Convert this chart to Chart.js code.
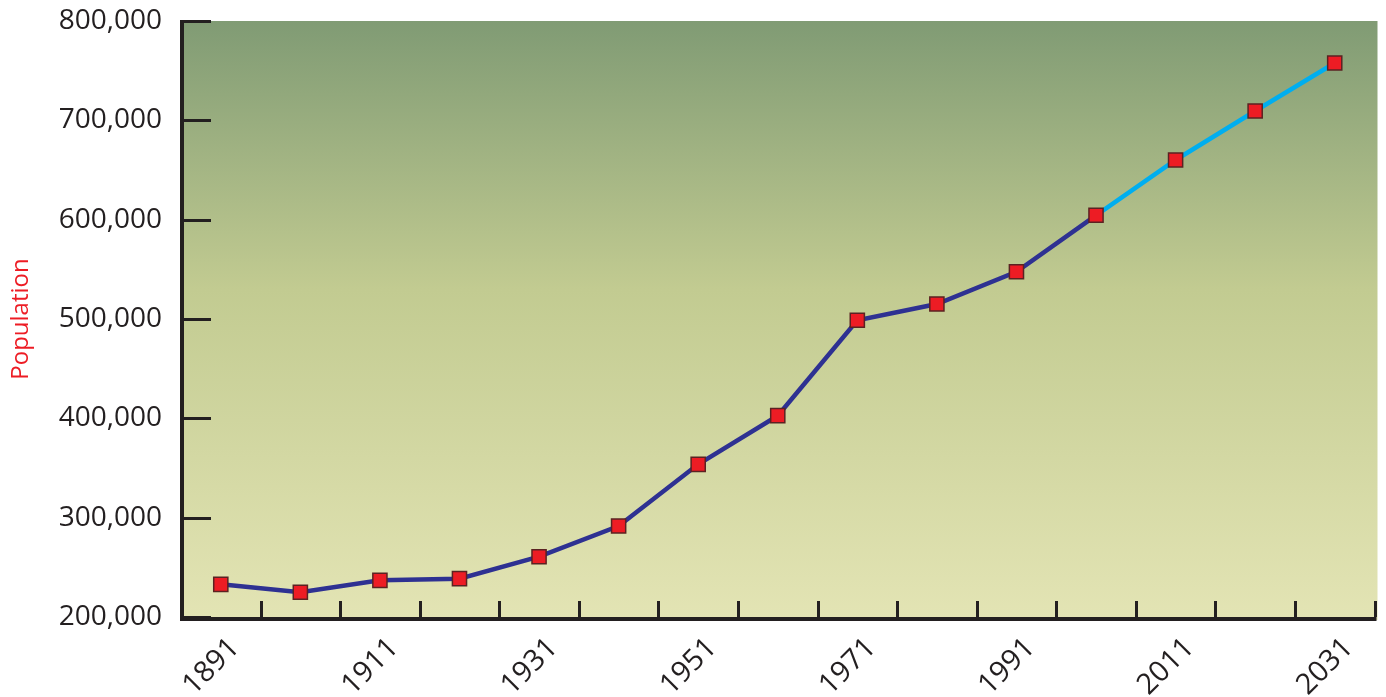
<!DOCTYPE html>
<html>
<head>
<meta charset="utf-8">
<title>Population</title>
<script src="https://cdn.jsdelivr.net/npm/chart.js@4/dist/chart.umd.min.js"></script>
<style>
  html, body { margin: 0; padding: 0; background: #ffffff; }
  #wrap { width: 1386px; height: 697px; position: relative; }
</style>
</head>
<body>
<div id="wrap"><canvas id="popChart"></canvas></div>
<script>
/* ================= Dados ================= */
const years = ['1891', '1901', '1911', '1921', '1931', '1941', '1951', '1961',
               '1971', '1981', '1991', '2001', '2011', '2021', '2031'];
const population = [232900, 224900, 236900, 238600, 260700, 291600, 353700, 402700,
                    498700, 515100, 547600, 604400, 660100, 709400, 757700];
const yTicks = [200000, 300000, 400000, 500000, 600000, 700000, 800000];
const projectionStart = 11; // a partir de 2001 a linha fica azul claro

const INK = '#231f20';
const FONT = '"Open Sans", "DejaVu Sans", sans-serif';

/* ================= Plugins ================= */
// fundo em degradê verde
const bgGradient = {
  id: 'bgGradient',
  beforeDatasetsDraw(chart) {
    const { ctx, chartArea: a } = chart;
    const g = ctx.createLinearGradient(0, a.top, 0, a.bottom);
    g.addColorStop(0, '#809b74');
    g.addColorStop(0.45, '#c2cb91');
    g.addColorStop(1, '#e3e4b4');
    ctx.save();
    ctx.fillStyle = g;
    ctx.fillRect(a.left, a.top, a.right - a.left + 3, a.bottom - a.top + 3);
    ctx.restore();
  }
};

// eixos com marcas para dentro da área do gráfico
const innerAxes = {
  id: 'innerAxes',
  afterDatasetsDraw(chart) {
    const { ctx, chartArea: a, scales } = chart;
    const x = scales.x, y = scales.y;
    ctx.save();
    ctx.strokeStyle = INK;
    ctx.lineCap = 'butt';

    ctx.lineWidth = 3;
    yTicks.forEach(v => {
      const py = Math.round(y.getPixelForValue(v)) + 0.5;
      ctx.beginPath();
      ctx.moveTo(a.left, py);
      ctx.lineTo(a.left + 30, py);
      ctx.stroke();
    });
    for (let i = 1; i <= years.length; i++) {
      const px = Math.round(x.getPixelForValue(i - 0.5)) + 0.5;
      ctx.beginPath();
      ctx.moveTo(px, a.bottom);
      ctx.lineTo(px, a.bottom - 16);
      ctx.stroke();
    }

    ctx.lineWidth = 4;
    ctx.beginPath();
    ctx.moveTo(a.left + 1, a.top - 1);
    ctx.lineTo(a.left + 1, a.bottom + 2);
    ctx.lineTo(a.right + 2, a.bottom + 2);
    ctx.stroke();
    ctx.restore();
  }
};

// tamanhos fixos das escalas, sem folgas extras
function fixBox(s, w, h) {
  if (w) s.width = w;
  if (h) s.height = h;
  s.paddingTop = 0;
  s.paddingBottom = 0;
  s.paddingLeft = 0;
  s.paddingRight = 0;
}

/* ================= Gráfico ================= */
new Chart(document.getElementById('popChart'), {
  type: 'line',
  data: {
    labels: years,
    datasets: [{
      label: 'Population',
      data: population,
      borderColor: '#2e3192',
      borderWidth: 4.5,
      segment: {
        borderColor: c => c.p0DataIndex >= projectionStart ? '#00aeef' : '#2e3192'
      },
      tension: 0,
      pointStyle: 'rect',
      pointRadius: 10,
      pointHoverRadius: 10,
      pointBackgroundColor: '#ed1c24',
      pointBorderColor: '#5b2222',
      pointBorderWidth: 1.5
    }]
  },
  options: {
    responsive: true,
    maintainAspectRatio: false,
    animation: false,
    layout: { padding: { top: 21, right: 8, left: 0, bottom: 0 } },
    plugins: { legend: { display: false }, tooltip: { enabled: false } },
    scales: {
      x: {
        offset: true,
        grid: { display: false, drawTicks: false },
        border: { display: false },
        ticks: {
          autoSkip: false,
          minRotation: 45,
          maxRotation: 45,
          padding: 14,
          labelOffset: 14,
          color: INK,
          font: { family: FONT, size: 29 },
          callback: (v, i) => (i % 2 === 0 ? years[i] : '')
        },
        afterFit: s => fixBox(s, 0, 80)
      },
      y: {
        min: 200000,
        max: 800000,
        afterBuildTicks: s => { s.ticks = yTicks.map(v => ({ value: v })); },
        grid: { display: false, drawTicks: false },
        border: { display: false },
        title: {
          display: true,
          text: 'Population',
          color: '#ed1c24',
          font: { family: FONT, size: 24 },
          padding: { top: 7, bottom: 0 }
        },
        ticks: {
          padding: 19,
          color: INK,
          font: { family: FONT, size: 28 },
          callback: v => v.toLocaleString('en-US')
        },
        afterFit: s => fixBox(s, 181, 0)
      }
    }
  },
  plugins: [bgGradient, innerAxes]
});
</script>
</body>
</html>
